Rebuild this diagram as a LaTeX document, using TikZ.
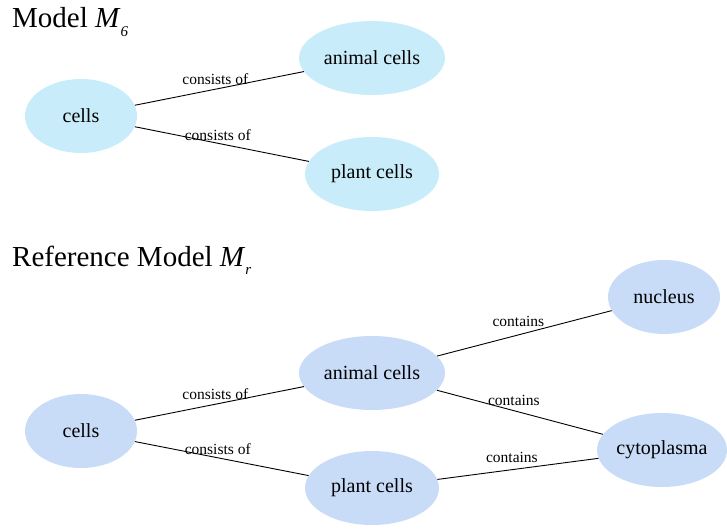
\documentclass[tikz,border=0pt]{standalone}
\usepackage{fontspec}
\setmainfont{Liberation Serif}
\usetikzlibrary{shapes.geometric}
\definecolor{cyanfill}{RGB}{200,236,250}
\definecolor{bluefill}{RGB}{200,219,247}
\newcommand{\modelsym}[1]{\textit{M}\raisebox{-0.3em}{\fontsize{15}{16}\selectfont\textit{#1}}}
\begin{document}
\begin{tikzpicture}[x=1pt,y=-1pt,
  concept/.style={ellipse,inner sep=0pt,fill=#1,draw=none,minimum width=112pt,minimum height=74pt,font=\fontsize{20}{24}\selectfont},
  wide/.style={minimum width=146pt},
  rel/.style={draw=black,line width=0.9pt},
  rellabel/.style={midway,above,inner sep=1pt,yshift=2pt,xshift=-4pt,font=\fontsize{15.5}{18}\selectfont},
  haslabel/.style={rellabel,yshift=3pt,xshift=-2pt},
  heading/.style={anchor=base west,inner sep=0pt,font=\fontsize{29}{34}\selectfont}]
\useasboundingbox (0,0) rectangle (727,529);

% Model M6
\node[heading] (t1) at (12,28) {Model \modelsym{6}};
\node[concept=cyanfill] (c1) at (81,116) {cells};
\node[concept=cyanfill,wide] (a1) at (372,58) {animal cells};
\node[concept=cyanfill,minimum width=134pt] (p1) at (372,174) {plant cells};
\draw[rel] (c1) -- node[rellabel]{consists of} (a1);
\draw[rel] (c1) -- node[rellabel]{consists of} (p1);

% Reference model Mr
\node[heading] (t2) at (12,266) {Reference Model \modelsym{r}};
\node[concept=bluefill] (c2) at (81,431) {cells};
\node[concept=bluefill,wide] (a2) at (372,373) {animal cells};
\node[concept=bluefill,minimum width=134pt] (p2) at (372,488) {plant cells};
\node[concept=bluefill] (n2) at (664,297) {nucleus};
\node[concept=bluefill,minimum width=130pt] (y2) at (662,450) {cytoplasma};
\draw[rel] (c2) -- node[rellabel]{consists of} (a2);
\draw[rel] (c2) -- node[rellabel]{consists of} (p2);
\draw[rel] (a2) -- node[haslabel]{contains} (n2);
\draw[rel] (a2) -- node[haslabel]{contains} (y2);
\draw[rel] (p2) -- node[haslabel]{contains} (y2);
\end{tikzpicture}
\end{document}
